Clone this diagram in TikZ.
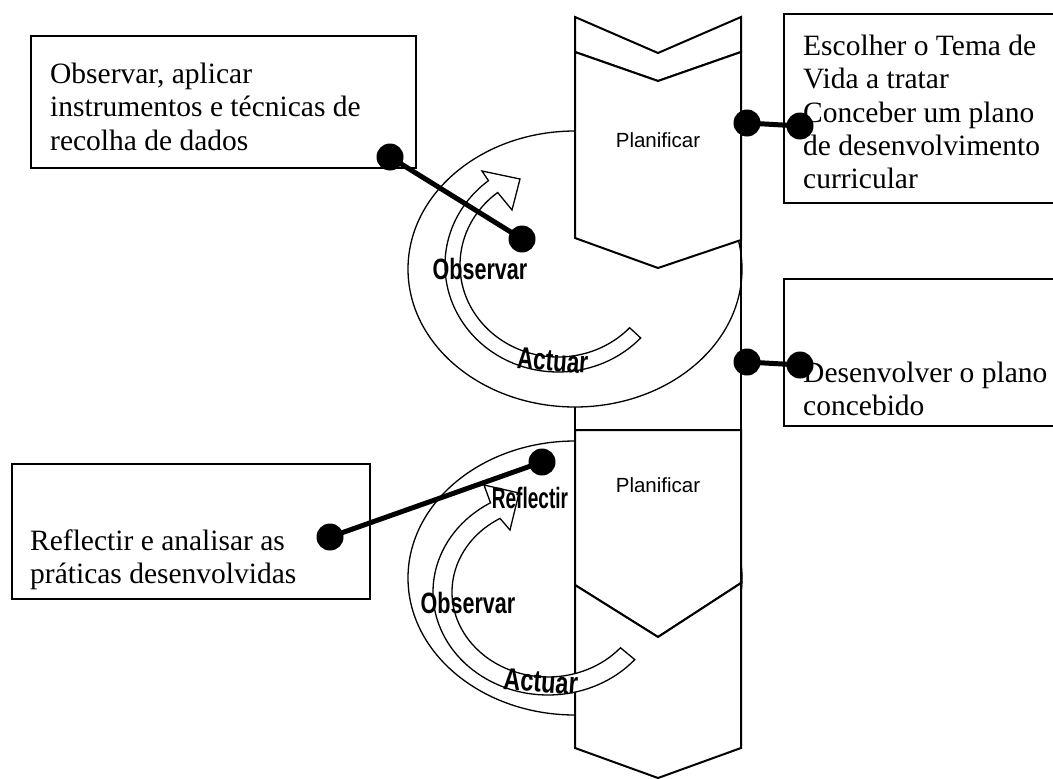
\documentclass[tikz,border=0pt]{standalone}
\usepackage{fontspec}
\setmainfont{Liberation Serif}
\newfontfamily\sansf{Liberation Sans}
\usetikzlibrary{calc}

\tikzset{
  boxstyle/.style={draw, line width=1.8pt, fill=white},
  btext/.style={anchor=base west, inner sep=0pt, font=\fontsize{29.5}{33.5}\selectfont},
  cyc/.style={draw, line width=1.3pt, fill=white},
  chev/.style={draw, line width=2pt, fill=white, line join=miter},
  arr/.style={draw, line width=1.3pt, fill=white, line join=miter},
  dot/.style={circle, fill=black, inner sep=0pt, minimum size=27pt},
  conn/.style={line width=5pt},
  plan/.style={anchor=base, inner sep=0pt, font=\sansf\fontsize{20.5}{24}\selectfont},
  stage/.style={anchor=base, inner sep=0pt, font=\sansf\bfseries\fontsize{28}{32}\selectfont},
}

\begin{document}
\begin{tikzpicture}[x=1pt, y=-1pt]
\useasboundingbox (0,0) rectangle (1053,779);

% ---------- text boxes ----------
\node[boxstyle, anchor=north west, minimum width=385pt, minimum height=132pt] (boxA) at (30,35) {};
\node[btext] (tA) at (50,83) {\parbox[t]{400pt}{\raggedright Observar, aplicar\\instrumentos e técnicas de\\recolha de dados}};

\node[boxstyle, anchor=north west, minimum width=280pt, minimum height=189pt] (boxB) at (783,13) {};
\node[btext] (tB) at (803,55) {\parbox[t]{300pt}{\raggedright Escolher o Tema de\\Vida a tratar\\Conceber um plano\\de desenvolvimento\\curricular}};

\node[boxstyle, anchor=north west, minimum width=280pt, minimum height=147pt] (boxC) at (783,278) {};
\node[btext] (tC) at (803,382) {\parbox[t]{300pt}{\raggedright Desenvolver o plano\\concebido}};

\node[boxstyle, anchor=north west, minimum width=358pt, minimum height=135pt] (boxD) at (11,463) {};
\node[btext] (tD) at (30,550) {\parbox[t]{400pt}{\raggedright Reflectir e analisar as\\práticas desenvolvidas}};

% ---------- upper cycle ----------
\draw[cyc] (575,269) ellipse [x radius=167, y radius=138];
\draw[line width=2pt] (575,407) -- (575,430) -- (741,430);
\draw[line width=2pt] (741,17) -- (741,748);
\draw[chev] (575,17) -- (658,53) -- (741,17) -- (741,52) -- (658,81) -- (575,52) -- cycle;
\draw[chev] (575,52) -- (658,81) -- (741,52) -- (741,240) -- (658,268) -- (575,238) -- cycle;
\node[plan] (plan1) at (658,147) {Planificar};

\draw[arr] ($(558,265)+(43:113 and 107)$)
  arc[start angle=43, end angle=232, x radius=113, y radius=107]
  -- (482,171) -- (520,179) -- (512,210)
  -- ($(558,265)+(232:98 and 92)$)
  arc[start angle=232, end angle=43, x radius=98, y radius=92] -- cycle;

% ---------- lower cycle ----------
\draw[cyc] (575,578) ellipse [x radius=167, y radius=137];
\draw[chev] (575,430) -- (741,430) -- (741,583) -- (658,637) -- (575,585) -- cycle;
\draw[chev] (575,585) -- (658,637) -- (741,583) -- (741,748) -- (658,778) -- (575,748) -- cycle;
\node[plan] (plan2) at (658,492) {Planificar};

\draw[arr] ($(548,592)+(41:115 and 103)$)
  arc[start angle=41, end angle=240, x radius=115, y radius=103]
  -- (484,485) -- (519,493) -- (510,530)
  -- ($(548,592)+(240:96 and 85)$)
  arc[start angle=240, end angle=41, x radius=96, y radius=85] -- cycle;

% ---------- connectors ----------
\node[dot] (pA1) at (390,157) {};
\node[dot] (pA2) at (522,239) {};
\draw[conn] (pA1.center) -- (pA2.center);

\node[dot] (pB1) at (747,123) {};
\node[dot] (pB2) at (800,126) {};
\draw[conn] (pB1.center) -- (pB2.center);

\node[dot] (pC1) at (747,362) {};
\node[dot] (pC2) at (800,365) {};
\draw[conn] (pC1.center) -- (pC2.center);

\node[dot] (pD1) at (330,537) {};
\node[dot] (pD2) at (542,462) {};
\draw[conn] (pD1.center) -- (pD2.center);

% ---------- stage labels ----------
\node[stage] (obs1) at (480,279) {\scalebox{0.77}[1.05]{Observar}};
\node[stage, rotate=-4] (act1) at (552,371) {\scalebox{0.8}[1.1]{Actuar}};
\node[stage] (ref2) at (530,508) {\scalebox{0.68}[1.05]{Reflectir}};
\node[stage] (obs2) at (468,613) {\scalebox{0.77}[1.05]{Observar}};
\node[stage, rotate=-4] (act2) at (540,692) {\scalebox{0.84}[1.1]{Actuar}};
\end{tikzpicture}
\end{document}
